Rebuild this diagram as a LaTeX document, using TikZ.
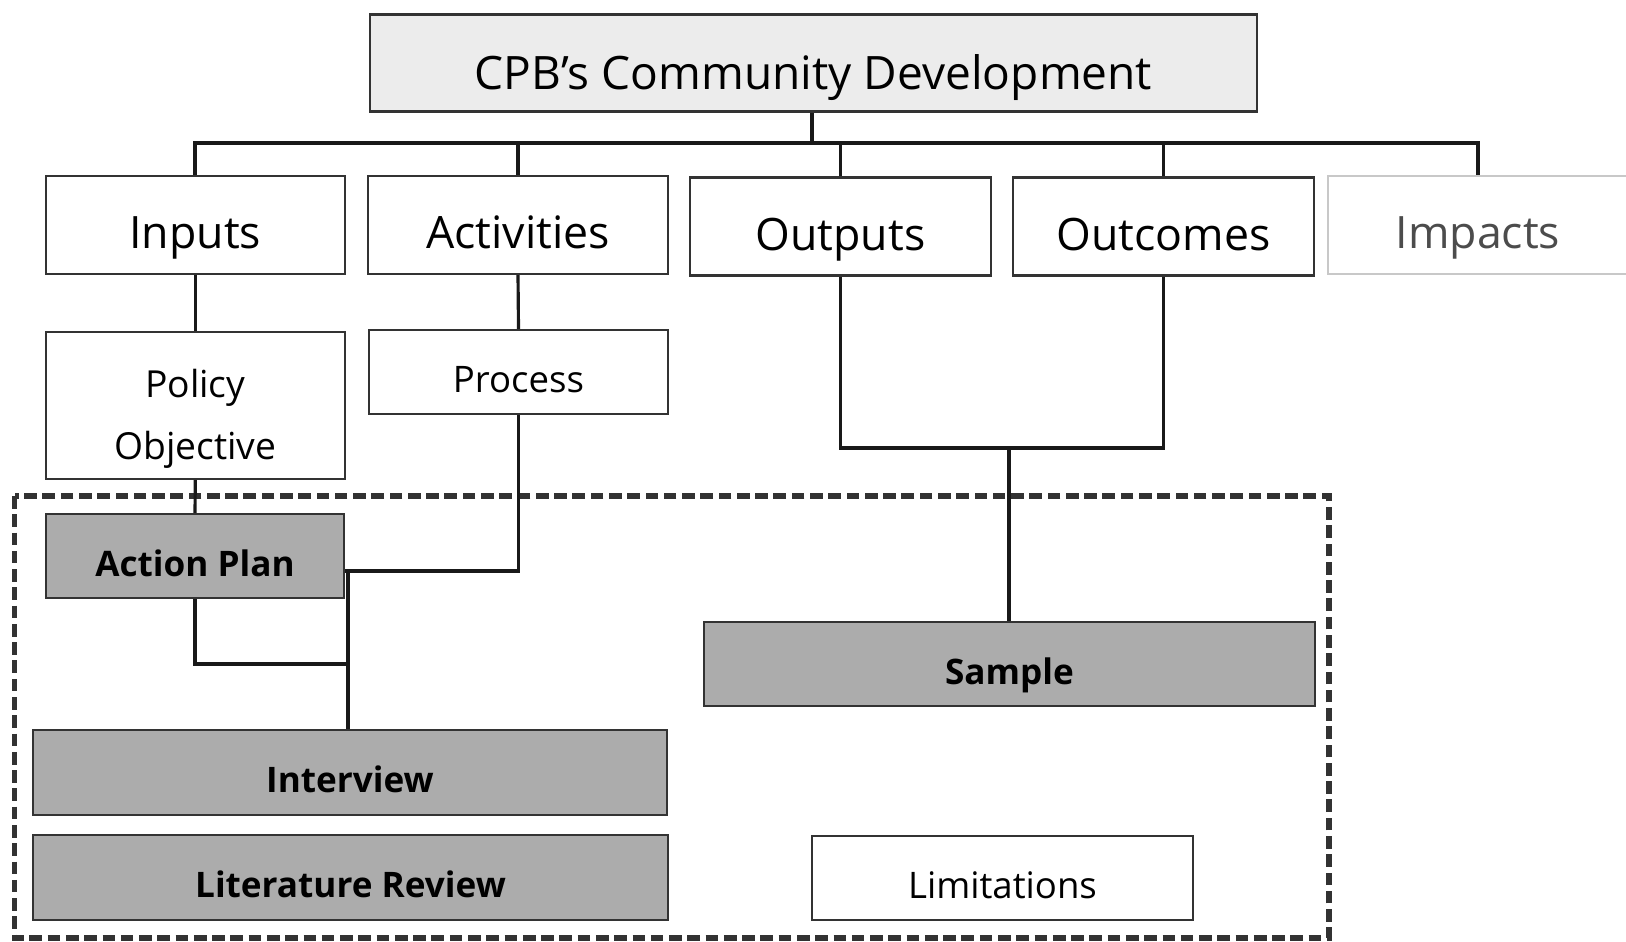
\documentclass[tikz,border=0pt]{standalone}
\usepackage{fontspec}
\setmainfont{Open Sans}
\definecolor{boxgray}{RGB}{172,172,172}
\definecolor{topgray}{RGB}{236,236,236}
\definecolor{lightedge}{RGB}{200,200,200}
\definecolor{dashgray}{RGB}{50,50,50}
\tikzset{
  basebox/.style={draw=black!80, line width=0.6pt, inner sep=0pt, align=center, text height=1.25em, text depth=0.1em},
  bigbox/.style={basebox, font=\fontsize{12.7}{14}\selectfont, minimum height=0.98cm, text height=1.45em},
  smallbox/.style={basebox, font=\fontsize{10.4}{17.6}\selectfont},
  graybox/.style={basebox, fill=boxgray, font=\fontsize{10}{12}\selectfont\bfseries, minimum height=0.84cm},
  conn/.style={line width=0.9pt, black!90},
}
\begin{document}
\begin{tikzpicture}
\useasboundingbox (0,0) rectangle (16.26,-9.41);
% dashed frame
\draw[dashgray, line width=1.5pt, dash pattern=on 3.6pt off 1.6pt] (0.145,-4.96) rectangle (13.29,-9.38);
% top
\node[bigbox, fill=topgray, line width=0.8pt, font=\fontsize{13.1}{15}\selectfont, text height=1.6em, minimum width=8.87cm, minimum height=0.975cm] (top) at (8.135,-0.63) {CPB’s Community Development};
% level 1
\node[bigbox, minimum width=2.99cm] (inputs) at (1.953,-2.25) {Inputs};
\node[bigbox, minimum width=3.0cm] (activities) at (5.18,-2.25) {Activities};
\node[bigbox, minimum width=3.01cm] (outputs) at (8.405,-2.265) {Outputs};
\node[bigbox, minimum width=3.01cm] (outcomes) at (11.635,-2.265) {Outcomes};
\node[bigbox, draw=lightedge, text=black!70, minimum width=3.0cm] (impacts) at (14.78,-2.25) {Impacts};
% level 2
\node[draw=black!80, line width=0.6pt, inner sep=0pt, font=\fontsize{10.6}{17.6}\selectfont, minimum width=2.99cm, minimum height=1.47cm] (policy) at (1.953,-4.055) {\raisebox{0pt}[\dimexpr\height+0.22cm\relax][\depth]{\begin{tabular}{@{}c@{}}Policy\\Objective\end{tabular}}};
\node[smallbox, minimum width=2.99cm, minimum height=0.84cm] (process) at (5.185,-3.72) {Process};
% gray boxes
\node[graybox, minimum width=2.985cm] (action) at (1.95,-5.56) {Action Plan};
\node[graybox, minimum width=6.11cm] (sample) at (10.095,-6.64) {Sample};
\node[graybox, minimum width=6.34cm, minimum height=0.85cm] (interview) at (3.5,-7.725) {Interview};
\node[graybox, minimum width=6.35cm, minimum height=0.85cm] (litrev) at (3.505,-8.775) {Literature Review};
\node[smallbox, minimum width=3.81cm, minimum height=0.84cm] (limits) at (10.025,-8.78) {Limitations};
% bus
\coordinate (bus) at (8.12,-1.43);
\draw[conn, line width=1.2pt] (top.south -| bus) -- (bus);
\draw[conn, line width=1.2pt] (inputs.north) |- (bus) -| (impacts.north);
\draw[conn] (activities.north) -- (activities.north |- bus);
\draw[conn] (outputs.north) -- (outputs.north |- bus);
\draw[conn] (outcomes.north) -- (outcomes.north |- bus);
% inputs / activities chain
\draw[conn] (inputs.south) -- (policy.north);
\draw[conn] (activities.south) -- (process.north);
\draw[conn] (policy.south) -- (action.north);
\coordinate (j1) at (3.48,-5.71);
\coordinate (j2) at (3.48,-6.64);
\draw[conn] (process.south) |- (j1);
\draw[conn] (j1 -| action.east) -- (j1) -- (j1 |- interview.north);
\draw[conn] (action.south) |- (j2);
% outputs / outcomes
\coordinate (j3) at (10.09,-4.48);
\draw[conn] (outputs.south) |- (j3) -| (outcomes.south);
\draw[conn] (j3) -- (j3 |- sample.north);
\end{tikzpicture}
\end{document}
